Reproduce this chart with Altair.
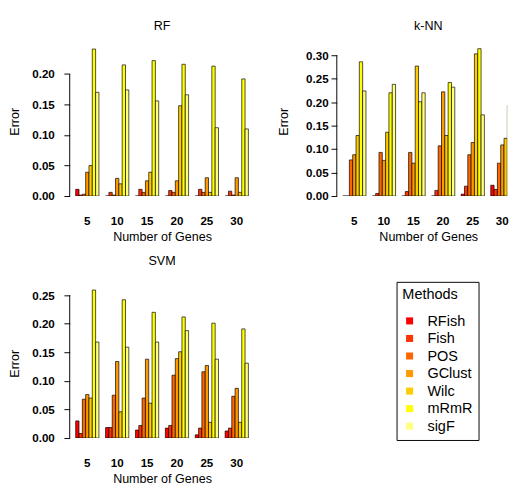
import altair as alt
import pandas as pd

genes = ["5", "10", "15", "20", "25", "30"]
methods = ["RFish", "Fish", "POS", "GClust", "Wilc", "mRmR", "sigF"]
heat_colors = ["#FF0000", "#FF3300", "#FF6600", "#FF9900", "#FFCC00", "#FFFF00", "#FFFF80"]

# RF panel (one value per number of genes)
rf_rfish = [0.011, 0.0, 0.0, 0.0, 0.0, 0.0]
rf_fish = [0.0016, 0.006, 0.011, 0.009, 0.011, 0.008]
rf_pos = [0.003, 0.0016, 0.006, 0.006, 0.006, 0.0016]
rf_gclust = [0.039, 0.029, 0.025, 0.025, 0.030, 0.030]
rf_wilc = [0.050, 0.020, 0.039, 0.148, 0.006, 0.006]
rf_mrmr = [0.241, 0.215, 0.222, 0.216, 0.213, 0.192]
rf_sigf = [0.170, 0.174, 0.156, 0.166, 0.112, 0.110]

# k-NN panel
knn_rfish = [0.0, 0.0, 0.0, 0.0, 0.004, 0.023]
knn_fish = [0.0, 0.0055, 0.0096, 0.012, 0.021, 0.014]
knn_pos = [0.077, 0.093, 0.093, 0.107, 0.088, 0.070]
knn_gclust = [0.088, 0.076, 0.070, 0.222, 0.114, 0.109]
knn_wilc = [0.129, 0.136, 0.277, 0.129, 0.303, 0.123]
knn_mrmr = [0.286, 0.220, 0.201, 0.242, 0.314, 0.193]
knn_sigf = [0.224, 0.238, 0.220, 0.232, 0.173, 0.134]

# SVM panel
svm_rfish = [0.030, 0.0185, 0.014, 0.0174, 0.0056, 0.0124]
svm_fish = [0.008, 0.0185, 0.022, 0.022, 0.0174, 0.0174]
svm_pos = [0.068, 0.075, 0.070, 0.110, 0.116, 0.073]
svm_gclust = [0.076, 0.134, 0.138, 0.139, 0.127, 0.087]
svm_wilc = [0.070, 0.046, 0.061, 0.151, 0.0275, 0.0275]
svm_mrmr = [0.259, 0.242, 0.220, 0.212, 0.201, 0.191]
svm_sigf = [0.168, 0.159, 0.168, 0.188, 0.138, 0.131]

rf_ticks = [0.0, 0.05, 0.10, 0.15, 0.20]
knn_ticks = [0.0, 0.05, 0.10, 0.15, 0.20, 0.25, 0.30]
svm_ticks = [0.0, 0.05, 0.10, 0.15, 0.20, 0.25]

FONT = "Liberation Sans"


def long_table(series):
    rows = []
    for m, vals in zip(methods, series):
        for g, v in zip(genes, vals):
            rows.append({"genes": g, "method": m, "error": v})
    return pd.DataFrame(rows)


def panel(title, series, ymax, ticks, width, xrange=None, title_dx=0, legend=None,
          label_pad=10, title_pad=11):
    df = long_table(series)
    if xrange is None:
        xscale = alt.Scale(paddingInner=2 / 9, paddingOuter=0.2)
    else:
        xscale = alt.Scale(paddingInner=2 / 9, paddingOuter=0.2, range=xrange)
    color_kw = dict(sort=methods, scale=alt.Scale(domain=methods, range=heat_colors))
    if legend is None:
        color = alt.Color("method:N", legend=None, **color_kw)
    else:
        color = alt.Color("method:N", legend=legend, **color_kw)
    yscale = alt.Scale(domain=[0, ymax], nice=False)
    yaxis = alt.Axis(
        title="Error", values=ticks, format=".2f", domain=False, grid=False,
        tickSize=6, tickColor="black", tickWidth=1,
        labelFont=FONT, labelFontWeight="bold", labelFontSize=12, labelColor="black",
        labelPadding=label_pad, labelOverlap=False, titleFont=FONT, titleFontSize=13,
        titleFontWeight="normal", titleColor="black", titlePadding=title_pad,
    )
    bars = alt.Chart(df).mark_bar(stroke="black", strokeWidth=0.7, clip=True).encode(
        x=alt.X(
            "genes:N", sort=genes, scale=xscale,
            axis=alt.Axis(
                title="Number of Genes", labelAngle=0, ticks=False, tickSize=0, domain=False,
                labelFont=FONT, labelFontWeight="bold", labelFontSize=12, labelColor="black",
                labelPadding=21, titleFont=FONT, titleFontSize=13, titleFontWeight="normal",
                titleColor="black", titlePadding=4,
            ),
        ),
        xOffset=alt.XOffset("method:N", sort=methods, scale=alt.Scale(paddingInner=0, paddingOuter=0)),
        y=alt.Y("error:Q", scale=yscale, axis=yaxis),
        color=color,
    )
    rule_df = pd.DataFrame({"lo": [ticks[0]], "hi": [ticks[-1]]})
    rule = alt.Chart(rule_df).mark_rule(color="black", strokeWidth=1).encode(
        x=alt.value(0),
        y=alt.Y("lo:Q", scale=yscale, axis=yaxis),
        y2="hi:Q",
    )
    return alt.layer(bars, rule).properties(
        width=width, height=155,
        title=alt.TitleParams(title, font=FONT, fontSize=13, fontWeight="normal", color="black",
                              anchor="middle", offset=14, dx=title_dx),
    )


legend = alt.Legend(
    title="Methods", orient="none", legendX=339, legendY=-7,
    strokeColor="black", fillColor="white", padding=6,
    titleFont=FONT, titleFontSize=15, titleFontWeight="normal", titleColor="black",
    titleAnchor="start", titlePadding=12,
    labelFont=FONT, labelFontSize=15, labelColor="black", labelOffset=11,
    symbolType="square", symbolSize=53, symbolStrokeWidth=0, rowPadding=2.2,
)

rf = panel("RF", [rf_rfish, rf_fish, rf_pos, rf_gclust, rf_wilc, rf_mrmr, rf_sigf],
           0.245, rf_ticks, 191.5)
knn = panel("k-NN", [knn_rfish, knn_fish, knn_pos, knn_gclust, knn_wilc, knn_mrmr, knn_sigf],
            0.3185, knn_ticks, 176.7, xrange=[0, 189.7], title_dx=6.5,
            label_pad=3, title_pad=16)
svm = panel("SVM", [svm_rfish, svm_fish, svm_pos, svm_gclust, svm_wilc, svm_mrmr, svm_sigf],
            0.2615, svm_ticks, 191.5, legend=legend)

top = alt.hconcat(rf, knn, spacing=23)
chart = (
    alt.vconcat(top, svm, spacing=12)
    .resolve_legend(color="independent")
    .properties(padding={"left": 0, "top": 4, "right": 0, "bottom": 0}, background="white")
    .configure_view(strokeWidth=0)
)

chart.save("out.html", embed_options={"renderer": "svg", "actions": False})
